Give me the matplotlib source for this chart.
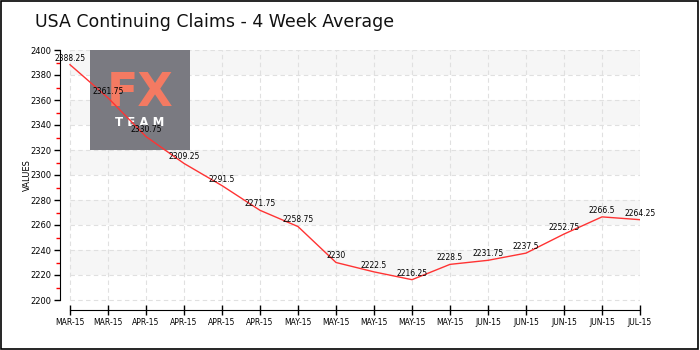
import matplotlib
matplotlib.use("Agg")
import matplotlib.pyplot as plt
from matplotlib.patches import Rectangle
from matplotlib.ticker import MultipleLocator

# Continuing claims, 4 week average (thousands)
weeks = ["MAR-15", "MAR-15", "APR-15", "APR-15", "APR-15", "APR-15",
         "MAY-15", "MAY-15", "MAY-15", "MAY-15", "MAY-15",
         "JUN-15", "JUN-15", "JUN-15", "JUN-15", "JUL-15"]
values = [2388.25, 2361.75, 2330.75, 2309.25, 2291.5, 2271.75,
          2258.75, 2230, 2222.5, 2216.25, 2228.5,
          2231.75, 2237.5, 2252.75, 2266.5, 2264.25]

title = "USA Continuing Claims - 4 Week Average"
ymin, ymax, ystep = 2200, 2400, 20

fig = plt.figure(figsize=(7, 3.5), dpi=100)
fig.patches.append(Rectangle((0.001, 0.002), 0.996, 0.995, transform=fig.transFigure,
                             fill=False, edgecolor="black", linewidth=1.2))

ax = fig.add_axes([60 / 700, 40 / 350, 580 / 700, 260 / 350])
x = list(range(len(values)))
n = len(values) - 1

# alternating bands and dashed grid
for i, lo in enumerate(range(ymin, ymax, ystep)):
    if i % 2 == 1:
        ax.fill_between([0, n], lo, lo + ystep, color="#f6f6f6", linewidth=0, zorder=0)
ax.hlines(range(ymin, ymax + 1, ystep), 0, n, colors="#e0e0e0", linestyles=(0, (4, 3)),
          linewidth=0.8, zorder=1)
ax.vlines(x, ymin, ymax, colors="#e0e0e0", linestyles=(0, (4, 3)), linewidth=0.8, zorder=1)

# logo block over the grid, under the line
ax.add_patch(Rectangle((90 / 700, 1 - 150 / 350), 100 / 700, 100 / 350,
                       transform=fig.transFigure, facecolor="#7a7a81",
                       edgecolor="none", zorder=2, clip_on=False))
ax.text(140 / 700, 1 - 94 / 350, "FX", color="#f47a62", fontsize=33,
        fontweight="bold", ha="center", va="center", zorder=2, transform=fig.transFigure)
ax.text(140 / 700, 1 - 122 / 350, "T E A M", color="white", fontsize=8.5,
        fontweight="bold", ha="center", va="center", zorder=2, transform=fig.transFigure)

ax.plot(x, values, color="#ff3333", linewidth=1, zorder=3)
for xi, v in zip(x, values):
    ax.annotate(f"{v:g}", (xi, v), xytext=(0, 1.5), textcoords="offset points",
                ha="center", va="bottom", fontsize=5.5, color="black", zorder=4)

ax.set_xlim(-10 / 38, n)
ax.set_ylim(ymin - 8, ymax)
ax.set_xticks(x)
ax.set_xticklabels(weeks, fontsize=5.5)
ax.yaxis.set_major_locator(MultipleLocator(ystep))
ax.yaxis.set_minor_locator(MultipleLocator(ystep / 2))
ax.tick_params(axis="y", which="major", length=4, width=1, labelsize=6, pad=2)
ax.tick_params(axis="y", which="minor", length=3, width=1, color="red")
ax.tick_params(axis="x", direction="inout", length=7, width=1, pad=2)

for side in ["top", "right"]:
    ax.spines[side].set_visible(False)
ax.spines["left"].set_bounds(ymin, ymax)
ax.spines["bottom"].set_bounds(0, n)
ax.set_ylabel("VALUES", fontsize=6)
ax.yaxis.set_label_coords(-28 / 580, 0.52)

fig.text(35 / 700, 1 - 22 / 350, title, fontsize=12.5, va="center", ha="left",
         color="#111111")

fig.savefig("out.png", dpi=100)
